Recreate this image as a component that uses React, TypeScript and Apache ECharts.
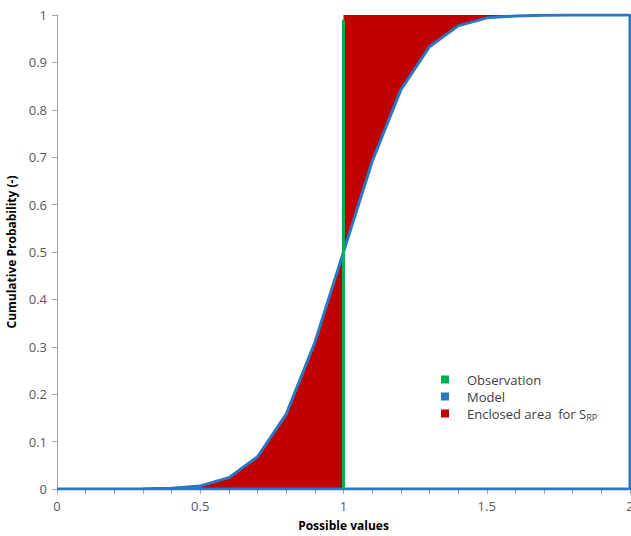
import React, { useEffect, useRef } from "react";
import * as echarts from "echarts";

const xValues = [0, 0.1, 0.2, 0.3, 0.4, 0.5, 0.6, 0.7, 0.8, 0.9, 1.0, 1.1, 1.2, 1.3, 1.4, 1.5, 1.6, 1.7, 1.8, 1.9, 2.0];
const modelCdf = [0, 0, 0, 0.0003, 0.0015, 0.0065, 0.024, 0.068, 0.158, 0.309, 0.5, 0.691, 0.842, 0.933, 0.977, 0.994, 0.998, 0.9995, 1, 1, 1];
const observationX = [1, 1];
const observationY = [0, 0.99];
const xTicks = [0, 0.5, 1, 1.5, 2];
const yTicks = [0, 0.1, 0.2, 0.3, 0.4, 0.5, 0.6, 0.7, 0.8, 0.9, 1];

const AREA_NAME = "Enclosed area  for S_RP";

export default function App() {
  const ref = useRef<HTMLDivElement>(null);
  useEffect(() => {
    if (!ref.current) return;
    const chart = echarts.init(ref.current, undefined, { renderer: "svg" });
    const modelPts = xValues.map((x, i) => [x, modelCdf[i]]);
    const lowerPts = modelPts.filter((p) => p[0] <= 1);
    const upperPts = modelPts.filter((p) => p[0] >= 1);
    const modelLoop = [...modelPts, [2, 0], [0, 0]];
    const obsPts = observationX.map((x, i) => [x, observationY[i]]);
    const font = "'Open Sans', 'Liberation Sans', sans-serif";
    chart.setOption({
      animation: false,
      textStyle: { fontFamily: font },
      grid: { left: 57, right: 1, top: 15, bottom: 47, outerBoundsMode: "none", containLabel: false },
      legend: {
        left: 436,
        top: 368,
        orient: "vertical",
        itemWidth: 8,
        itemHeight: 8,
        itemGap: 4,
        icon: "rect",
        data: ["Observation", "Model", AREA_NAME],
        formatter: (name: string) =>
          name === AREA_NAME ? "Enclosed area  for S{sub|RP}" : name,
        textStyle: {
          fontFamily: font,
          fontSize: 13,
          color: "#404040",
          padding: [0, 0, 0, 13],
          rich: {
            sub: { fontSize: 9, verticalAlign: "bottom", padding: [8, 0, 0, 0], color: "#404040", fontFamily: font },
          },
        },
      },
      xAxis: {
        type: "value",
        min: 0,
        max: 2,
        interval: 0.5,
        name: "Possible values",
        nameLocation: "middle",
        nameGap: 30,
        nameTextStyle: { fontWeight: "bold", fontSize: 12, color: "#000", fontFamily: font },
        axisLine: { show: true, lineStyle: { color: "#a6a6a6", width: 1 } },
        axisTick: { show: true, length: 5, lineStyle: { color: "#a6a6a6" } },
        minorTick: { show: true, splitNumber: 5, length: 5, lineStyle: { color: "#a6a6a6" } },
        axisLabel: {
          color: "#595959",
          fontSize: 13,
          margin: 10,
          formatter: (v: number) => (xTicks.includes(v) ? String(v) : ""),
        },
        splitLine: { show: false },
      },
      yAxis: {
        type: "value",
        min: 0,
        max: 1,
        interval: 0.1,
        name: "Cumulative Probability (-)",
        nameLocation: "middle",
        nameGap: 40,
        nameTextStyle: { fontWeight: "bold", fontSize: 12, color: "#000", fontFamily: font },
        axisLine: { show: true, lineStyle: { color: "#a6a6a6", width: 1 } },
        axisTick: { show: true, length: 5, lineStyle: { color: "#a6a6a6" } },
        axisLabel: {
          color: "#595959",
          fontSize: 13,
          margin: 10,
          formatter: (v: number) => {
            const r = Math.round(v * 10) / 10;
            return yTicks.includes(r) ? String(r) : "";
          },
        },
        splitLine: { show: false },
      },
      series: [
        {
          name: AREA_NAME,
          type: "line",
          data: lowerPts,
          showSymbol: false,
          symbol: "none",
          lineStyle: { width: 0 },
          itemStyle: { color: "#c00000" },
          areaStyle: { color: "#c00000", opacity: 1, origin: "start" },
          z: 1,
        },
        {
          name: AREA_NAME,
          type: "line",
          data: upperPts,
          showSymbol: false,
          symbol: "none",
          lineStyle: { width: 0 },
          itemStyle: { color: "#c00000" },
          areaStyle: { color: "#c00000", opacity: 1, origin: "end" },
          z: 1,
        },
        {
          name: "Observation",
          type: "line",
          data: obsPts,
          showSymbol: false,
          symbol: "none",
          lineStyle: { width: 3, color: "#00b050" },
          itemStyle: { color: "#00b050" },
          z: 3,
        },
        {
          name: "Model",
          type: "line",
          data: modelLoop,
          showSymbol: false,
          symbol: "none",
          lineStyle: { width: 3, color: "#2a78c2" },
          itemStyle: { color: "#2a78c2" },
          z: 2,
        },
      ],
    });
    return () => chart.dispose();
  }, []);
  return (
    <div
      ref={ref}
      style={{ position: "fixed", left: 0, top: 0, width: 631, height: 536, background: "#fff" }}
    />
  );
}
